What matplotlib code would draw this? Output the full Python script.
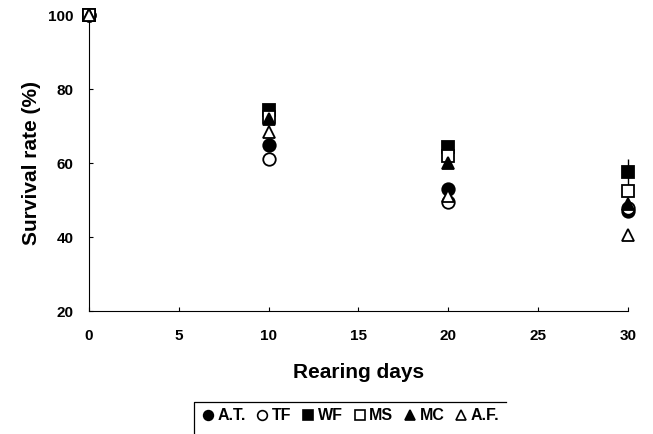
import matplotlib.pyplot as plt
from matplotlib import rcParams
from matplotlib.lines import Line2D

rcParams['font.family'] = 'Liberation Sans'
rcParams['font.weight'] = 'bold'

days = [0, 10, 20, 30]
labels = ['A.T.', 'TF', 'WF', 'MS', 'MC', 'A.F.']
at = [100, 65, 53, 47]
tf = [100, 61, 49.5, 48]
wf = [100, 74.5, 64.5, 57.5]
ms = [100, 72.5, 62, 52.5]
mc = [100, 72, 60, 49]
af = [100, 68.5, 51, 40.5]
wf_err = [0, 1, 1, 3.5]

series = [at, tf, wf, ms, mc, af]
markers = ['o', 'o', 's', 's', '^', '^']
fills = ['black', 'white', 'black', 'white', 'black', 'white']
errs = [None, None, wf_err, None, None, None]

fig = plt.figure(figsize=(6.53, 4.34), dpi=100)
ax = fig.add_axes([0.136, 0.283, 0.826, 0.682])

for s, m, fc, lab, e in zip(series, markers, fills, labels, errs):
    ax.errorbar(days, s, yerr=e, fmt=m, mfc=fc, mec='black', mew=1.3,
                ms=9, ecolor='black', elinewidth=1, capsize=0, label=lab,
                clip_on=False, zorder=3)

ax.set_xlim(0, 30)
ax.set_ylim(20, 100)
ax.set_xticks(range(0, 31, 5))
ax.set_yticks(range(20, 101, 20))
ax.spines['top'].set_visible(False)
ax.spines['right'].set_visible(False)
ax.tick_params(labelsize=11, length=3, direction='in')
ax.tick_params(axis='y', pad=11)
ax.tick_params(axis='x', pad=13)
for t in ax.get_xticklabels() + ax.get_yticklabels():
    t.set_fontweight('bold')

ax.set_xlabel('Rearing days', fontsize=15, fontweight='bold', labelpad=14)
ax.set_ylabel('Survival rate (%)', fontsize=15, fontweight='bold', labelpad=5)

handles = [Line2D([], [], ls='none', marker=m, mfc=fc, mec='black', mew=1.2, ms=7)
           for m, fc in zip(markers, fills)]
leg = fig.legend(handles, labels, loc='center', bbox_to_anchor=(0.536, 0.042), ncol=6,
                 frameon=False, handletextpad=0.15, columnspacing=0.6,
                 handlelength=0.9, borderpad=0.4,
                 prop={'weight': 'bold', 'size': 11.5})

# legend box: only top and left edges show in the original
fig.canvas.draw()
bb = leg.get_window_extent().transformed(fig.transFigure.inverted())
fig.add_artist(Line2D([bb.x0, bb.x0, bb.x1], [bb.y0 - 0.02, bb.y1, bb.y1],
                      transform=fig.transFigure, color='black', lw=0.9))

fig.savefig('out.png', dpi=100)
